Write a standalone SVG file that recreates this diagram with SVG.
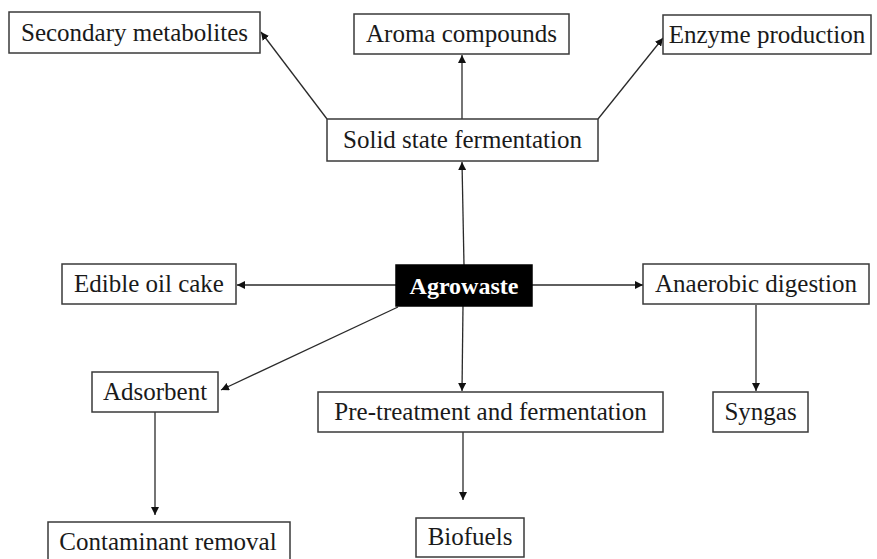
<svg xmlns="http://www.w3.org/2000/svg" width="877" height="559" viewBox="0 0 877 559">
<style>
.box{fill:#fff;stroke:#3a3a3a;stroke-width:1.5}
.dark{fill:#000;stroke:#000;stroke-width:1.5}
.t{font-family:"Liberation Serif","Times New Roman",serif;font-size:25px;fill:#1a1a1a;text-anchor:middle}
.tw{font-family:"Liberation Serif","Times New Roman",serif;font-size:24px;font-weight:bold;fill:#fff;text-anchor:middle}
.c{stroke:#2a2a2a;stroke-width:1.3;fill:none;marker-end:url(#ah)}
</style>
<defs>
<marker id="ah" markerUnits="userSpaceOnUse" markerWidth="9" markerHeight="8" refX="8" refY="4" orient="auto">
<path d="M0,0 L8,4 L0,8 z" fill="#111"/>
</marker>
</defs>
<g id="connectors">
<line class="c" x1="327" y1="119" x2="261" y2="32"/>
<line class="c" x1="462" y1="119" x2="462" y2="55"/>
<line class="c" x1="598" y1="119" x2="663" y2="38"/>
<line class="c" x1="464" y1="265" x2="462" y2="162"/>
<line class="c" x1="396" y1="285" x2="237" y2="285"/>
<line class="c" x1="532" y1="285" x2="643" y2="285"/>
<line class="c" x1="398" y1="307" x2="221" y2="390"/>
<line class="c" x1="463" y1="306" x2="462" y2="391"/>
<line class="c" x1="756" y1="305" x2="756" y2="391"/>
<line class="c" x1="155" y1="412" x2="155" y2="515"/>
<line class="c" x1="463" y1="432" x2="463" y2="500"/>
</g>
<g id="secondary-metabolites"><rect class="box" x="9" y="12" width="251" height="41"/><text class="t" x="134.5" y="41">Secondary metabolites</text></g>
<g id="aroma-compounds"><rect class="box" x="354" y="14" width="215" height="40"/><text class="t" x="461.5" y="42">Aroma compounds</text></g>
<g id="enzyme-production"><rect class="box" x="663" y="15" width="208" height="39"/><text class="t" x="767" y="43">Enzyme production</text></g>
<g id="solid-state-fermentation"><rect class="box" x="327" y="119" width="271" height="42"/><text class="t" x="462.5" y="148">Solid state fermentation</text></g>
<g id="agrowaste"><rect class="dark" x="396" y="265" width="136" height="41"/><text class="tw" x="464" y="294">Agrowaste</text></g>
<g id="edible-oil-cake"><rect class="box" x="62" y="264" width="174" height="40"/><text class="t" x="149" y="292">Edible oil cake</text></g>
<g id="anaerobic-digestion"><rect class="box" x="643" y="264" width="226" height="40"/><text class="t" x="756" y="292">Anaerobic digestion</text></g>
<g id="adsorbent"><rect class="box" x="92" y="372" width="126" height="40"/><text class="t" x="155" y="400">Adsorbent</text></g>
<g id="pretreatment"><rect class="box" x="318" y="392" width="345" height="40"/><text class="t" x="490.5" y="420">Pre-treatment and fermentation</text></g>
<g id="syngas"><rect class="box" x="713" y="392" width="95" height="40"/><text class="t" x="760.5" y="420">Syngas</text></g>
<g id="contaminant-removal"><rect class="box" x="48" y="522" width="242" height="45"/><text class="t" x="168" y="550">Contaminant removal</text></g>
<g id="biofuels"><rect class="box" x="416" y="518" width="108" height="39"/><text class="t" x="470" y="545">Biofuels</text></g>
</svg>
